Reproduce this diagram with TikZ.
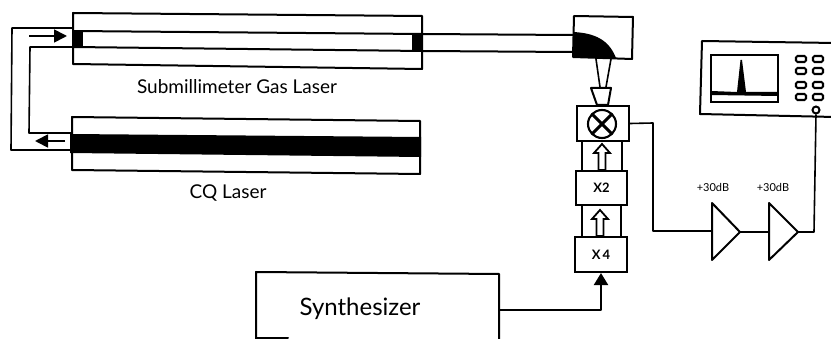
\documentclass[tikz,border=0pt]{standalone}
\usepackage{fontspec}
\setmainfont{Lato}
\usetikzlibrary{arrows.meta}
\tikzset{
  ln/.style={draw=black,line width=2pt,line cap=round,line join=round},
  thin ln/.style={draw=black,line width=1.6pt,line join=round},
  boxnode/.style={draw=black,line width=2.1pt,fill=white,inner sep=0pt,font=\bfseries\fontsize{13}{15}\selectfont},
  hollow/.style={draw=black,line width=1.8pt,fill=white,line join=miter},
  solidarrow/.style={draw=black,line width=1.8pt,-{Triangle[length=13pt,width=13pt]}},
  lbl/.style={inner sep=0pt,text=black},
  btn/.style={draw=black,line width=2.1pt,fill=white,rounded corners=1.5pt}
}
\newcommand{\hollowarrow}[3]{% x, ytop, ybottom
  \draw[hollow] (#1-3.5,#3) -- (#1-3.5,#2+9) -- (#1-8,#2+9) -- (#1,#2) -- (#1+8,#2+9) -- (#1+3.5,#2+9) -- (#1+3.5,#3) -- cycle;}
\begin{document}
\begin{tikzpicture}[x=1pt,y=-1pt]
\useasboundingbox (0,0) rectangle (831,339);
\fill[white] (0,0) rectangle (831,339);

% feedback loop
\coordinate (gasL1) at (73,28); \coordinate (gasL2) at (73,47);
\coordinate (coL1) at (71,133); \coordinate (coL2) at (71,150);
\draw[thin ln] (gasL1) -- (12,28) -- (11,150) -- (coL2);
\draw[thin ln] (gasL2) -- (30,47) -- (29,133) -- (coL1);
\coordinate (a1s) at (29,36); \coordinate (a1e) at (67,36);
\coordinate (a2s) at (65,141); \coordinate (a2e) at (35,141);
\draw[solidarrow] (a1s) -- (a1e);
\draw[solidarrow] (a2s) -- (a2e);

% gas laser
\draw[ln,fill=white] (73,13) -- (422,16) -- (422,69) -- (73,64) -- cycle;
\draw[ln] (73,31) -- (422,34);
\draw[ln] (73,47) -- (422,51);
\fill[black] (73,31) -- (83,31) -- (83,47) -- (73,47) -- cycle;
\fill[black] (412,33) -- (422,33) -- (422,51) -- (412,51) -- cycle;
\node[lbl,font=\fontsize{19}{22}\selectfont] (gaslabel) at (237,87) {Submillimeter Gas Laser};

% CO laser
\draw[ln,fill=white] (72,117) -- (420,121) -- (420,174) -- (72,170) -- cycle;
\fill[black] (70,134) -- (421,137) -- (421,157) -- (70,153) -- cycle;
\node[lbl,font=\fontsize{19}{22}\selectfont] (colabel) at (228,193) {CQ Laser};

% beam to mirror
\coordinate (b1) at (422,34); \coordinate (b2) at (422,51);
\coordinate (m1) at (573,35); \coordinate (m2) at (573,52);
\draw[ln] (b1) -- (m1);
\draw[ln] (b2) -- (m2);

% mirror box
\draw[ln,fill=white] (574,16) -- (633,17) -- (632,59) -- (573,57) -- cycle;
\fill[black] (573,32) .. controls (595,33) and (609,40) .. (616,58) -- (573,57) -- cycle;
\draw[thin ln] (596,59) -- (600,87);
\draw[thin ln] (611,59) -- (606,87);
\draw[ln,fill=white] (591,88) -- (611,88) -- (608,105) -- (597,105) -- cycle;

% mixer and multipliers
\draw[ln] (582,141) -- (582,171);
\draw[ln] (622,141) -- (622,171);
\draw[ln] (582,205) -- (582,237);
\draw[ln] (621,205) -- (621,237);
\node[boxnode,minimum width=52pt,minimum height=35pt] (mixer) at (603,123.5) {};
\draw[line width=2.1pt] (602,124) circle (14);
\draw[line width=3pt] (592.5,114.5) -- (611.5,133.5);
\draw[line width=3pt] (611.5,114.5) -- (592.5,133.5);
\node[boxnode,minimum width=51pt,minimum height=34pt] (x2) at (601.5,188) {X2};
\node[boxnode,minimum width=52pt,minimum height=35pt] (x4) at (601,254.5) {X\,4};
\hollowarrow{602}{144}{170}
\hollowarrow{600}{210}{236}

% synthesizer
\node[lbl,font=\fontsize{24}{28}\selectfont] (synth) at (360,309) {Synthesizer};
\draw[ln] (256,339) -- (256,272) -- (499,274) -- (499,339);
\draw[ln] (256,338) -- (288,338);
\coordinate (synthout) at (499,310);
\draw[draw=black,line width=2.2pt,line join=round,-{Triangle[length=12pt,width=14pt]}] (synthout) -- (601,310) -- (x4.south);

% amplifiers
\coordinate (amp1in) at (712,231); \coordinate (amp1out) at (740,232);
\coordinate (amp2in) at (769,232); \coordinate (amp2out) at (798,232);
\draw[ln,fill=white] (712,203) -- (amp1out) -- (712,260) -- cycle;
\draw[ln,fill=white] (769,203) -- (amp2out) -- (769,260) -- cycle;
\draw[thin ln] (mixer.east) -- (653,123) -- (653,231) -- (amp1in);
\draw[thin ln] (amp1out) -- (amp2in);
\node[lbl,font=\fontsize{11}{13}\selectfont] (g1) at (713,187) {+30dB};
\node[lbl,font=\fontsize{11}{13}\selectfont] (g2) at (773,187) {+30dB};

% analyzer
\draw[ln] (835,43) -- (702,41) -- (700,114) -- (835,117);
\draw[line width=2pt] (711,55) rectangle (778,102);
\fill[black] (711,91) -- (737,92) -- (740.5,60) -- (742,60) -- (746,92) -- (778,92) -- (778,96) -- (711,95) -- cycle;
\foreach \bx/\by in {801/59,818/59,801/71,818/71,801/85,818/85,801/97,818/97}{
  \draw[btn] (\bx-5,\by-3) rectangle (\bx+5,\by+3);
}
\node[draw=black,line width=2pt,fill=white,circle,minimum size=7pt,inner sep=0pt] (knob) at (816,110) {};
\draw[thin ln] (knob.south) -- (814,232) -- (amp2out);
\end{tikzpicture}
\end{document}
